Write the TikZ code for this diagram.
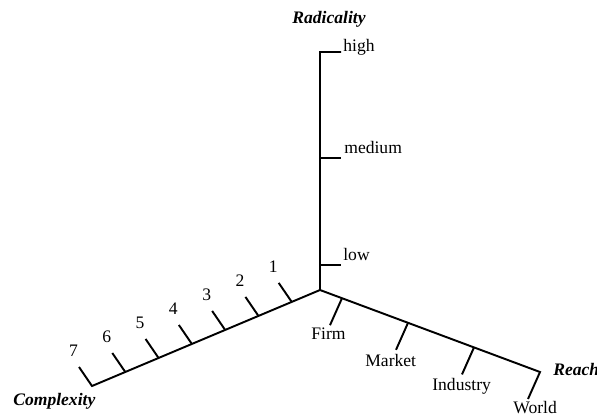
\documentclass[tikz,border=0pt]{standalone}
\usepackage{fontspec}
\setmainfont{Liberation Serif}
\usetikzlibrary{calc}
\newcommand{\axW}{1.1pt}
\newcommand{\rTk}{21}
\tikzset{
  axln/.style ={line width=\axW,line join=miter},
  tkln/.style ={line width=\axW},
  lab/.style  ={inner sep=0pt,anchor=base west},
  ttl/.style  ={lab,font=\bfseries\itshape},
  num/.style  ={inner sep=0pt,anchor=center},
}
\begin{document}
\begin{tikzpicture}[x=0.02cm,y=-0.02cm]
  \useasboundingbox (0,0) rectangle (597,416);
  % axes
  \coordinate (O)    at (320,290);
  \coordinate (Rtop) at (320,52);
  \coordinate (Ptop) at (92,386);
  \coordinate (Qtop) at (540,372);
  % radicality ticks
  \foreach \nm/\yy in {hi/52,md/158,lo/265}{
    \coordinate (r\nm) at (320,\yy);
    \coordinate (r\nm e) at (320+\rTk,\yy);
  }
  % complexity ticks
  \foreach \i in {1,...,7}{
    \pgfmathsetmacro{\tt}{1-(7-\i)*0.146}
    \coordinate (c\i) at ($(O)!\tt!(Ptop)$);
    \coordinate (c\i e) at ($(c\i)+(-13,-19)$);
  }
  % reach ticks
  \foreach \nm/\tt in {fi/0.1,mk/0.4,in/0.7,wo/1}{
    \coordinate (q\nm) at ($(O)!\tt!(Qtop)$);
    \coordinate (q\nm e) at ($(q\nm)+(-12,27)$);
  }
  \draw[axln] (rhie) -- (Rtop) -- (O) -- (Ptop) -- (c7e);
  \draw[axln] (O) -- (Qtop) -- (qwoe);
  \draw[tkln] (rmd) -- (rmde);
  \draw[tkln] (rlo) -- (rloe);
  \foreach \i in {1,...,6}{ \draw[tkln] (c\i) -- (c\i e); }
  \foreach \nm in {fi,mk,in}{ \draw[tkln] (q\nm) -- (q\nm e); }
  % labels
  \foreach \i in {1,...,7}{ \node[num] (n\i) at ($(c\i e)+(-5.5,-16)$) {\i}; }
  \node[lab] (lhi) at (343,51)  {high};
  \node[lab] (lmd) at (344,153) {medium};
  \node[lab] (llo) at (343,260) {low};
  \node[lab] (lfi) at (311,339) {Firm};
  \node[lab] (lmk) at (365,366) {Market};
  \node[lab] (lin) at (432,390) {Industry};
  \node[lab] (lwo) at (513,413) {World};
  \node[ttl] (tR) at (292,23)  {Radicality};
  \node[ttl] (tC) at (13,405)  {Complexity};
  \node[ttl] (tQ) at (553,375) {Reach};
\end{tikzpicture}
\end{document}
